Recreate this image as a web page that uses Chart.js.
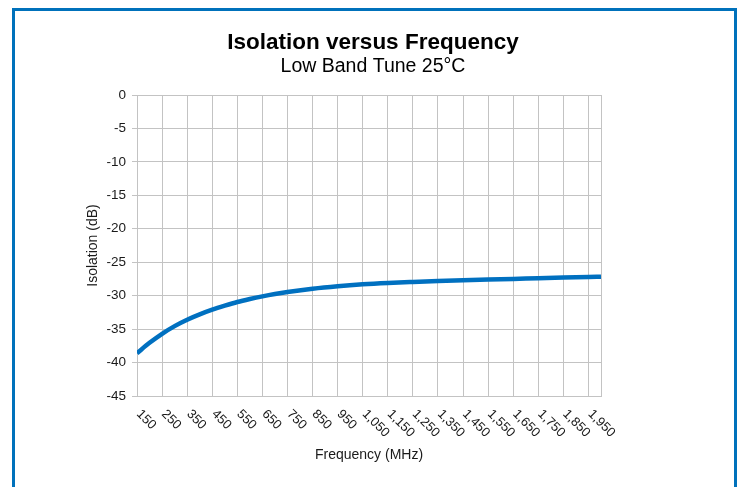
<!DOCTYPE html>
<html>
<head>
<meta charset="utf-8">
<script src="https://cdn.jsdelivr.net/npm/chart.js@4.4.1/dist/chart.umd.min.js"></script>
<style>
  html, body { margin: 0; padding: 0; background: #ffffff; width: 742px; height: 487px; overflow: hidden; }
  #frame { position: absolute; left: 12px; top: 8px; width: 719px; height: 479px;
           border: 3px solid #0071bb; border-bottom: none; background: #ffffff; }
  #wrap { position: relative; width: 719px; height: 476px; }
</style>
</head>
<body>
<div id="frame"><div id="wrap"><canvas id="c" width="719" height="476"></canvas></div></div>
<script>
// ---- data ----
const freqMHz = [150, 200, 250, 300, 350, 400, 450, 500, 550, 600, 650, 700, 750,
                 850, 950, 1050, 1150, 1250, 1350, 1450, 1550, 1650, 1750, 1850, 1950, 2000];
const isolationDb = [-38.6, -37.05, -35.7, -34.55, -33.6, -32.8, -32.1, -31.5, -30.95, -30.5, -30.1, -29.75, -29.45,
                     -28.95, -28.58, -28.3, -28.1, -27.95, -27.82, -27.7, -27.6, -27.5, -27.4, -27.3, -27.22, -27.17];
const xTickValues = [150, 250, 350, 450, 550, 650, 750, 850, 950, 1050, 1150, 1250, 1350, 1450, 1550, 1650, 1750, 1850, 1950];
const xTickLabels = ['150', '250', '350', '450', '550', '650', '750', '850', '950', '1,050', '1,150', '1,250',
                     '1,350', '1,450', '1,550', '1,650', '1,750', '1,850', '1,950'];
const xAxisMin = 150, xAxisMax = 2000;
const yAxisMin = -45, yAxisMax = 0, yStep = 5;
const chartTitle = 'Isolation versus Frequency';
const chartSubtitle = 'Low Band Tune 25°C';
const xAxisTitle = 'Frequency (MHz)';
const yAxisTitle = 'Isolation (dB)';

const FONT = '"Liberation Sans", Arial, Helvetica, sans-serif';
const TEXT = '#1a1a1a';
const GRID = '#c3c3c3';

const xLabelPlugin = {
  id: 'xLabels',
  afterDraw(chart) {
    const s = chart.scales.x;
    const ctx = chart.ctx;
    ctx.save();
    ctx.font = '13px ' + FONT;
    ctx.fillStyle = TEXT;
    ctx.textAlign = 'left';
    ctx.textBaseline = 'middle';
    xTickValues.forEach((v, i) => {
      const x = s.getPixelForValue(v);
      ctx.save();
      ctx.translate(x + 1.5, s.top + 16);
      ctx.rotate(Math.PI / 4);
      ctx.fillText(xTickLabels[i], 0, 0);
      ctx.restore();
    });
    ctx.restore();
  }
};

new Chart(document.getElementById('c'), {
  type: 'line',
  data: {
    datasets: [{
      data: freqMHz.map((f, i) => ({ x: f, y: isolationDb[i] })),
      borderColor: '#0070c0',
      borderWidth: 4.5,
      pointRadius: 0,
      cubicInterpolationMode: 'monotone',
      fill: false
    }]
  },
  options: {
    responsive: false,
    animation: false,
    devicePixelRatio: 1,
    layout: { padding: { left: 0, right: 3, top: 0, bottom: 0 } },
    plugins: {
      legend: { display: false },
      tooltip: { enabled: false },
      title: {
        display: true, text: chartTitle, color: '#000',
        font: { family: FONT, size: 22.5, weight: 'bold', lineHeight: 1.0 },
        padding: { top: 20.95, bottom: 0 }
      },
      subtitle: {
        display: true, text: chartSubtitle, color: '#000',
        font: { family: FONT, size: 19.5, weight: 'normal', lineHeight: 1.0 },
        padding: { top: 2.8, bottom: 18.25 }
      }
    },
    scales: {
      x: {
        type: 'linear',
        min: xAxisMin, max: xAxisMax,
        afterBuildTicks(s) { s.ticks = xTickValues.concat([xAxisMax]).map(v => ({ value: v })); },
        ticks: { display: false },
        grid: { color: GRID, drawTicks: false },
        border: { color: GRID },
        title: {
          display: true, text: xAxisTitle, color: TEXT,
          font: { family: FONT, size: 14 },
          padding: { top: 0, bottom: 23.6 }
        },
        afterFit(s) { s.height = 91; }
      },
      y: {
        min: yAxisMin, max: yAxisMax,
        ticks: { stepSize: yStep, color: TEXT, font: { family: FONT, size: 13.5 }, padding: 6 },
        grid: { color: GRID, tickLength: 5 },
        border: { color: GRID },
        title: {
          display: true, text: yAxisTitle, color: TEXT,
          font: { family: FONT, size: 14 },
          padding: { top: 69.6, bottom: 0 }
        },
        afterFit(s) { s.width = 122; }
      },
      y2: {
        position: 'right',
        display: true,
        min: yAxisMin, max: yAxisMax,
        ticks: { display: false },
        grid: { display: false, drawTicks: false },
        border: { display: false },
        afterFit(s) { s.width = 130; }
      }
    }
  },
  plugins: [xLabelPlugin]
});
</script>
</body>
</html>
